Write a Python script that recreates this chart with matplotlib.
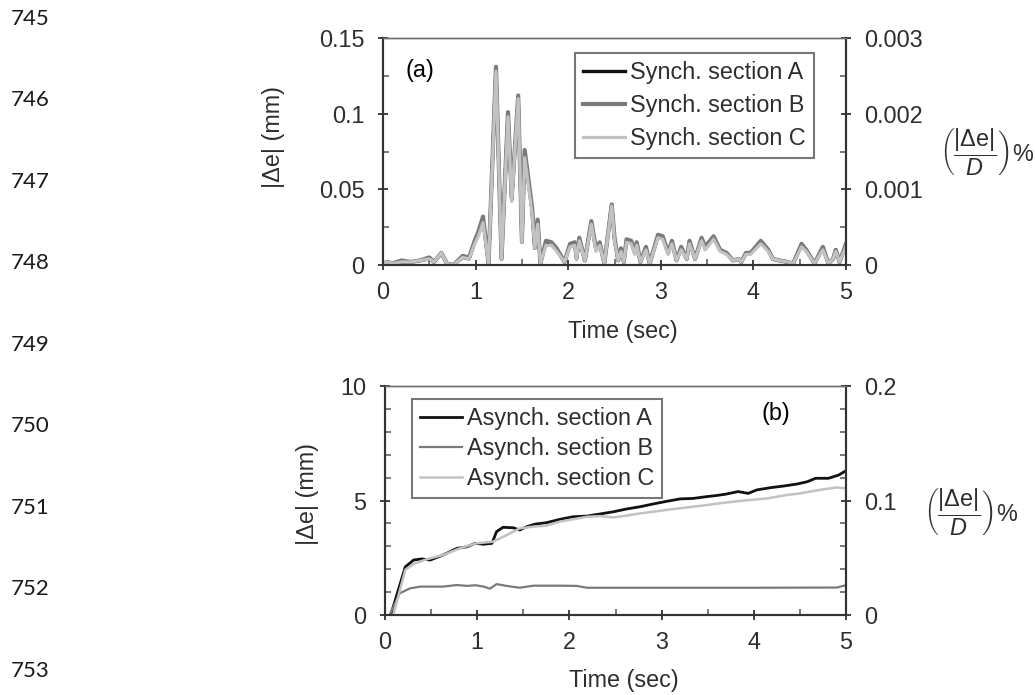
import matplotlib
matplotlib.use('Agg')
import matplotlib.pyplot as plt
from matplotlib.ticker import MultipleLocator

plt.rcParams['font.family'] = ['Liberation Sans', 'DejaVu Sans']
plt.rcParams['mathtext.fontset'] = 'custom'
plt.rcParams['mathtext.rm'] = 'Liberation Sans'
plt.rcParams['mathtext.it'] = 'Liberation Sans:italic'
plt.rcParams['mathtext.bf'] = 'Liberation Sans:bold'

# ---- (a) synchronous excitation, |delta e| in mm
t_sync = [0.00, 0.05, 0.10, 0.20, 0.30, 0.40, 0.50, 0.55, 0.63, 0.69,
          0.76, 0.86, 0.93, 0.99, 1.03, 1.08, 1.14, 1.22, 1.28, 1.35,
          1.39, 1.46, 1.50, 1.53, 1.61, 1.64, 1.67, 1.70, 1.76, 1.82,
          1.875, 1.96, 2.02, 2.07, 2.09, 2.12, 2.18, 2.25, 2.30, 2.34,
          2.39, 2.47, 2.50, 2.54, 2.57, 2.60, 2.63, 2.68, 2.72, 2.74,
          2.78, 2.84, 2.88, 2.97, 3.02, 3.08, 3.12, 3.17, 3.22, 3.28,
          3.31, 3.37, 3.44, 3.48, 3.57, 3.64, 3.71, 3.78, 3.84, 3.87,
          3.92, 3.97, 4.08, 4.16, 4.21, 4.28, 4.37, 4.43, 4.52, 4.57,
          4.66, 4.75, 4.81, 4.86, 4.89, 4.93, 5.00]
sync_A = [0.001, 0.002, 0.001, 0.002, 0.002, 0.003, 0.004, 0.002, 0.008, 0.001,
          0.000, 0.005, 0.004, 0.015, 0.021, 0.030, 0.001, 0.130, 0.004, 0.100,
          0.043, 0.111, 0.015, 0.074, 0.036, 0.011, 0.029, 0.001, 0.015, 0.014,
          0.010, 0.002, 0.013, 0.014, 0.004, 0.017, 0.003, 0.028, 0.010, 0.014,
          0.001, 0.040, 0.017, 0.003, 0.010, 0.002, 0.016, 0.015, 0.008, 0.014,
          0.002, 0.011, 0.001, 0.019, 0.018, 0.008, 0.015, 0.003, 0.011, 0.004,
          0.015, 0.004, 0.017, 0.011, 0.018, 0.010, 0.008, 0.003, 0.004, 0.002,
          0.008, 0.008, 0.015, 0.010, 0.004, 0.003, 0.002, 0.001, 0.013, 0.010,
          0.001, 0.011, 0.001, 0.004, 0.010, 0.002, 0.013]
sync_B = [0.001, 0.002, 0.001, 0.003, 0.002, 0.003, 0.005, 0.002, 0.008, 0.001,
          0.000, 0.006, 0.005, 0.016, 0.022, 0.032, 0.001, 0.131, 0.004, 0.101,
          0.044, 0.112, 0.016, 0.076, 0.038, 0.012, 0.030, 0.001, 0.016, 0.015,
          0.011, 0.002, 0.014, 0.015, 0.005, 0.018, 0.003, 0.029, 0.011, 0.015,
          0.001, 0.040, 0.018, 0.003, 0.011, 0.002, 0.017, 0.016, 0.008, 0.015,
          0.002, 0.012, 0.001, 0.020, 0.019, 0.008, 0.016, 0.003, 0.012, 0.004,
          0.016, 0.004, 0.018, 0.012, 0.019, 0.010, 0.008, 0.003, 0.004, 0.002,
          0.008, 0.008, 0.016, 0.010, 0.004, 0.003, 0.002, 0.001, 0.014, 0.010,
          0.001, 0.012, 0.001, 0.004, 0.010, 0.002, 0.014]
sync_C = [0.001, 0.002, 0.001, 0.002, 0.002, 0.003, 0.004, 0.002, 0.008, 0.001,
          0.000, 0.005, 0.004, 0.014, 0.019, 0.028, 0.001, 0.128, 0.004, 0.098,
          0.042, 0.110, 0.015, 0.071, 0.034, 0.011, 0.027, 0.001, 0.013, 0.013,
          0.009, 0.002, 0.012, 0.013, 0.004, 0.016, 0.003, 0.027, 0.009, 0.013,
          0.001, 0.039, 0.016, 0.003, 0.009, 0.002, 0.015, 0.014, 0.007, 0.013,
          0.002, 0.010, 0.001, 0.018, 0.017, 0.007, 0.014, 0.003, 0.010, 0.004,
          0.014, 0.004, 0.016, 0.010, 0.017, 0.009, 0.007, 0.003, 0.004, 0.002,
          0.007, 0.007, 0.014, 0.009, 0.004, 0.003, 0.002, 0.001, 0.012, 0.009,
          0.001, 0.010, 0.001, 0.004, 0.009, 0.002, 0.012]

# ---- (b) asynchronous excitation
t_async_A = [0.07, 0.22, 0.31, 0.40, 0.49, 0.63, 0.78, 0.89, 0.98, 1.07,
             1.16, 1.21, 1.28, 1.39, 1.46, 1.54, 1.63, 1.75, 1.90, 2.04,
             2.19, 2.33, 2.48, 2.62, 2.77, 2.91, 3.05, 3.20, 3.34, 3.49,
             3.60, 3.70, 3.83, 3.94, 4.03, 4.18, 4.32, 4.47, 4.58, 4.67,
             4.81, 4.92, 5.00]
async_A = [0.1, 2.1, 2.4, 2.45, 2.4, 2.62, 2.91, 2.98, 3.13, 3.09,
           3.13, 3.64, 3.83, 3.81, 3.71, 3.86, 3.97, 4.03, 4.18, 4.29,
           4.32, 4.41, 4.51, 4.63, 4.73, 4.85, 4.96, 5.07, 5.09, 5.17,
           5.22, 5.28, 5.39, 5.31, 5.46, 5.56, 5.63, 5.72, 5.82, 5.97,
           5.97, 6.11, 6.30]
t_async_B = [0.05, 0.16, 0.27, 0.38, 0.63, 0.78, 0.89, 0.98, 1.07, 1.14,
             1.21, 1.32, 1.46, 1.61, 1.90, 2.08, 2.19, 3.00, 4.00, 4.90, 5.00]
async_B = [0.0, 0.95, 1.16, 1.24, 1.24, 1.31, 1.27, 1.30, 1.24, 1.15,
           1.35, 1.27, 1.19, 1.28, 1.28, 1.27, 1.19, 1.19, 1.19, 1.20, 1.30]
t_async_C = [0.09, 0.22, 0.31, 0.45, 0.63, 0.81, 0.99, 1.17, 1.32, 1.46,
             1.61, 1.75, 1.90, 2.04, 2.19, 2.33, 2.48, 2.62, 2.77, 2.91,
             3.05, 3.20, 3.34, 3.49, 3.63, 3.85, 4.14, 4.36, 4.50, 4.61,
             4.76, 4.90, 5.00]
async_C = [0.0, 1.97, 2.23, 2.43, 2.62, 2.91, 3.13, 3.20, 3.49, 3.78,
           3.86, 3.90, 4.08, 4.18, 4.29, 4.32, 4.26, 4.34, 4.44, 4.51,
           4.59, 4.66, 4.73, 4.80, 4.88, 4.98, 5.09, 5.24, 5.31, 5.39,
           5.49, 5.57, 5.53]

# ticks and labels
x_ticks = [0, 1, 2, 3, 4, 5]
top_left_ticks = [0, 0.05, 0.1, 0.15]
top_left_labels = ['0', '0.05', '0.1', '0.15']
top_right_ticks = [0, 0.001, 0.002, 0.003]
top_right_labels = ['0', '0.001', '0.002', '0.003']
bot_left_ticks = [0, 5, 10]
bot_left_labels = ['0', '5', '10']
bot_right_ticks = [0, 0.1, 0.2]
bot_right_labels = ['0', '0.1', '0.2']
sync_names = ['Synch. section A', 'Synch. section B', 'Synch. section C']
async_names = ['Asynch. section A', 'Asynch. section B', 'Asynch. section C']
line_numbers = ['745', '746', '747', '748', '749', '750', '751', '752', '753']

FS = 16.8
TXT = '#2e2e2e'
W, H = 1035, 695


def px_axes(fig, left, top, right, bottom):
    return fig.add_axes([left / W, 1 - bottom / H, (right - left) / W, (bottom - top) / H])


def style(ax, ax2):
    for a in (ax, ax2):
        for s in ('left', 'right', 'bottom'):
            a.spines[s].set_color('#333333')
            a.spines[s].set_linewidth(1.5)
        a.spines['top'].set_color('#707070')
        a.spines['top'].set_linewidth(1.0)
    ax.tick_params(which='major', direction='inout', length=7.5, width=1.3,
                   color='#333333', labelsize=FS, labelcolor=TXT)
    ax.tick_params(which='minor', direction='in', length=4, width=1.1, color='#555555')
    ax.tick_params(axis='y', which='major', pad=9.5)
    ax.tick_params(axis='x', which='major', pad=7.5)
    ax2.tick_params(which='major', direction='inout', length=7.5, width=1.3,
                    color='#333333', labelsize=FS, labelcolor=TXT, pad=9.5)
    ax2.tick_params(which='minor', direction='in', length=4, width=1.1, color='#555555')
    ax.set_xlim(0, 5)
    ax.set_xticks(x_ticks)
    ax.xaxis.set_minor_locator(MultipleLocator(0.5))


def leg(ax, pos, spacing):
    lg = ax.legend(loc='upper left', bbox_to_anchor=pos, fontsize=FS, frameon=True,
                   fancybox=False, borderaxespad=0, borderpad=0.35, handlelength=1.8,
                   handletextpad=0.2, labelspacing=spacing)
    lg.get_frame().set_edgecolor('#555555')
    lg.get_frame().set_linewidth(1.5)
    for t in lg.get_texts():
        t.set_color(TXT)


fig = plt.figure(figsize=(W / 100, H / 100), dpi=100)
frac = r'$\left(\dfrac{|\Delta\mathrm{e}|}{D}\right)$%'

# panel (a)
ax = px_axes(fig, 383, 38, 846, 265)
ax2 = ax.twinx()
ax.plot(t_sync, sync_A, color='#111111', lw=2.4, label=sync_names[0])
ax.plot(t_sync, sync_B, color='#7a7a7a', lw=3.0, label=sync_names[1])
ax.plot(t_sync, sync_C, color='#c2c2c2', lw=2.3, label=sync_names[2])
ax.set_ylim(0, 0.15)
ax.set_yticks(top_left_ticks, labels=top_left_labels)
ax.yaxis.set_minor_locator(MultipleLocator(0.025))
ax2.set_ylim(0, 0.003)
ax2.set_yticks(top_right_ticks, labels=top_right_labels)
ax2.yaxis.set_minor_locator(MultipleLocator(0.0005))
style(ax, ax2)
ax.set_xlabel('Time (sec)', fontsize=FS, color=TXT, va='center')
ax.xaxis.set_label_coords(0.518, -0.291)
ax.set_ylabel('|Δe| (mm)', fontsize=FS, color=TXT, va='center')
ax.yaxis.set_label_coords(-0.2365, 0.562)
ax.text(0.08, 0.859, '(a)', transform=ax.transAxes, fontsize=FS, color='black',
        ha='center', va='center')
leg(ax, (0.415, 0.934), 0.42)
fig.text(987 / W, 1 - 152 / H, frac, fontsize=FS, color=TXT, ha='center', va='center')

# panel (b)
bx = px_axes(fig, 385, 386, 846, 615)
bx2 = bx.twinx()
bx.plot(t_async_A, async_A, color='#111111', lw=2.0, label=async_names[0])
bx.plot(t_async_B, async_B, color='#7a7a7a', lw=1.6, label=async_names[1])
bx.plot(t_async_C, async_C, color='#c2c2c2', lw=1.8, label=async_names[2])
bx.set_ylim(0, 10)
bx.set_yticks(bot_left_ticks, labels=bot_left_labels)
bx.yaxis.set_minor_locator(MultipleLocator(1))
bx2.set_ylim(0, 0.2)
bx2.set_yticks(bot_right_ticks, labels=bot_right_labels)
bx2.yaxis.set_minor_locator(MultipleLocator(0.02))
style(bx, bx2)
bx.set_xlabel('Time (sec)', fontsize=FS, color=TXT, va='center')
bx.xaxis.set_label_coords(0.518, -0.288)
bx.set_ylabel('|Δe| (mm)', fontsize=FS, color=TXT, va='center')
bx.yaxis.set_label_coords(-0.169, 0.528)
bx.text(0.848, 0.882, '(b)', transform=bx.transAxes, fontsize=FS, color='black',
        ha='center', va='center')
leg(bx, (0.0586, 0.943), 0.3)
fig.text(971 / W, 1 - 512 / H, frac, fontsize=FS, color=TXT, ha='center', va='center')

# manuscript line numbers down the left margin
for i, s in enumerate(line_numbers):
    fig.text(11 / W, 1 - (18.6 + 81.5 * i) / H, s, fontsize=16, family='Lato',
             color='#1a1a1a', ha='left', va='center')

fig.savefig('out.png', dpi=100)
